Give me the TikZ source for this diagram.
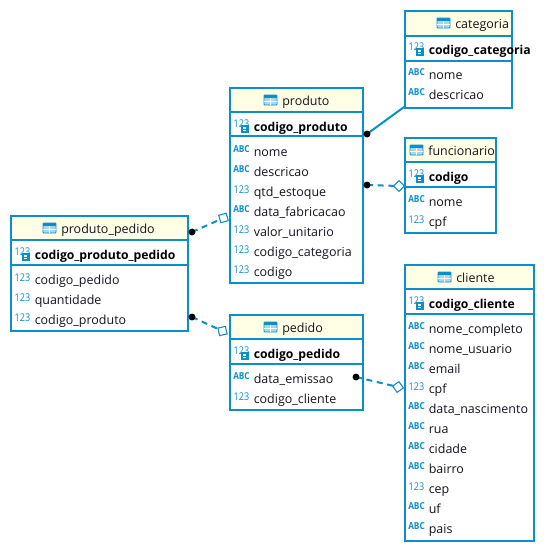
\documentclass[tikz,border=0pt]{standalone}
\usepackage{fontspec}
\usepackage{graphicx}
\setmainfont{Open Sans}
\usetikzlibrary{shapes.geometric}
\pgfdeclarelayer{back}
\pgfdeclarelayer{front}
\pgfsetlayers{back,main,front}
\definecolor{dbb}{HTML}{0A8FCB}
\definecolor{hdr}{HTML}{FFFFE6}
\definecolor{txt}{HTML}{14141E}
\tikzset{
  x=0.75pt,y=-0.75pt,
  tbl/.style={draw=dbb,line width=1.5pt,fill=none,inner sep=0,rectangle},
  rowtext/.style={anchor=base west,inner sep=0,text=txt,font=\fontsize{9.35}{10}\selectfont},
  keytext/.style={anchor=base west,inner sep=0,text=black,font=\fontsize{9.15}{10}\selectfont\bfseries},
  titletext/.style={rowtext},
  num/.style={anchor=center,inner sep=0,text=dbb,font=\fontsize{8}{8}\selectfont},
  abc/.style={anchor=center,inner sep=0,text=dbb,font=\fontsize{7.2}{8}\selectfont\bfseries},
  sep/.style={draw=dbb,line width=0.8pt},
  link/.style={draw=dbb,line width=1.5pt},
  dlink/.style={link,dash pattern=on 4.5pt off 3.5pt},
  dot/.style={circle,fill=black,inner sep=0,minimum size=5.2pt},
  dia/.style={diamond,draw=dbb,fill=white,line width=0.8pt,inner sep=0,minimum size=8.5pt},
}
\newcommand{\numicon}{\scalebox{0.85}[1]{123}}
\newcommand{\abcicon}{\scalebox{0.86}[1]{ABC}}
% table: name, x1,y1,x2,y2, header bottom, key bottom, title, title text x
\newcommand{\dbtable}[9]{%
  \path[fill=white] (#2,#3) rectangle (#4,#5);
  \path[fill=hdr] (#2,#3) rectangle (#4,#6);
  \draw[sep] (#2,#6) -- (#4,#6);
  \draw[sep] (#2,#7) -- (#4,#7);
  \node[tbl,anchor=north west,minimum width=#4*0.75pt-#2*0.75pt,minimum height=#5*0.75pt-#3*0.75pt] (#1) at (#2,#3) {};
  \node[titletext] at (#9+1,#3+18) {#8};
  \draw[dbb,fill=dbb!35,line width=0.7pt,rounded corners=0.6pt] (#9-17,#3+8) rectangle (#9-4,#3+18);
  \fill[dbb] (#9-17,#3+8) rectangle (#9-4,#3+11);
  \draw[white,line width=0.5pt] (#9-17,#3+14.2) -- (#9-4,#3+14.2) (#9-10.5,#3+11) -- (#9-10.5,#3+18);
}
\newcommand{\keyrow}[3]{% x y text
  \node[num] at (#1+13,#2-1.5) {\numicon};
  \fill[dbb] (#1+12,#2-0.5) rectangle (#1+20.5,#2+7);
  \fill[white] (#1+14.5,#2+1) rectangle (#1+17.5,#2+3);
  \fill[white] (#1+14.5,#2+4) rectangle (#1+17.5,#2+5.2);
  \node[keytext] at (#1+25,#2+5.5) {#3};
}
\newcommand{\numrow}[3]{\node[num] at (#1+13,#2-0.5) {\numicon};\node[rowtext] at (#1+25,#2+5.5) {#3};}
\newcommand{\abcrow}[3]{\node[abc] at (#1+13,#2-1) {\abcicon};\node[rowtext] at (#1+25,#2+5.5) {#3};}
\begin{document}
\begin{tikzpicture}
\useasboundingbox (1,1) rectangle (553,552);
\begin{pgfonlayer}{back}
\fill[white] (1,1) rectangle (553,552);
\end{pgfonlayer}

\dbtable{categoria}{404.5}{11}{511.5}{108}{37}{62}{categoria}{455}
\keyrow{404.5}{49.5}{codigo\_categoria}
\abcrow{404.5}{74.5}{nome}
\abcrow{404.5}{94.5}{descricao}

\dbtable{produto}{229.5}{88}{362.5}{283}{113}{137}{produto}{282}
\keyrow{229.5}{126.5}{codigo\_produto}
\abcrow{229.5}{151.5}{nome}
\abcrow{229.5}{171.5}{descricao}
\numrow{229.5}{191.5}{qtd\_estoque}
\abcrow{229.5}{211.5}{data\_fabricacao}
\numrow{229.5}{231.5}{valor\_unitario}
\numrow{229.5}{251.5}{codigo\_categoria}
\numrow{229.5}{271.5}{codigo}

\dbtable{funcionario}{404.5}{138}{495.5}{233}{163}{188}{funcionario}{428}
\keyrow{404.5}{176.5}{codigo}
\abcrow{404.5}{201.5}{nome}
\numrow{404.5}{221.5}{cpf}

\dbtable{cliente}{404.5}{265}{533.5}{541}{290}{315}{cliente}{456}
\keyrow{404.5}{303.5}{codigo\_cliente}
\abcrow{404.5}{328.5}{nome\_completo}
\abcrow{404.5}{348.5}{nome\_usuario}
\abcrow{404.5}{368.5}{email}
\numrow{404.5}{388.5}{cpf}
\abcrow{404.5}{408.5}{data\_nascimento}
\abcrow{404.5}{428.5}{rua}
\abcrow{404.5}{448.5}{cidade}
\abcrow{404.5}{468.5}{bairro}
\numrow{404.5}{488.5}{cep}
\abcrow{404.5}{508.5}{uf}
\abcrow{404.5}{528.5}{pais}

\dbtable{pedido}{229.5}{315}{362.5}{410}{340}{365}{pedido}{282}
\keyrow{229.5}{353.5}{codigo\_pedido}
\abcrow{229.5}{378.5}{data\_emissao}
\numrow{229.5}{398.5}{codigo\_cliente}

\dbtable{produtopedido}{10.5}{216}{187.5}{331}{241}{266}{produto\_pedido}{61}
\keyrow{10.5}{254.5}{codigo\_produto\_pedido}
\numrow{10.5}{279.5}{codigo\_pedido}
\numrow{10.5}{299.5}{quantidade}
\numrow{10.5}{319.5}{codigo\_produto}

\begin{pgfonlayer}{front}
\node[dot] (d1) at (368,135) {};
\node[dot] (d2) at (368,186) {};
\node[dia] (m2) at (400,187) {};
\node[dot] (d3) at (193,233) {};
\node[dia,rotate=-29] (m3) at (224.5,219) {};
\node[dot] (d4) at (193,318) {};
\node[dia,rotate=-32] (m4) at (223.5,332) {};
\node[dot] (d5) at (357,378) {};
\node[dia,rotate=-10] (m5) at (399,388) {};
\end{pgfonlayer}
\coordinate (e1) at (405,108);
\draw[link] (d1.center) -- (e1);
\draw[dlink] (d2.center) -- (m2.center);
\draw[dlink] (d3.center) -- (m3.center);
\draw[dlink] (d4.center) -- (m4.center);
\draw[dlink] (d5.center) -- (m5.center);
\end{tikzpicture}
\end{document}
